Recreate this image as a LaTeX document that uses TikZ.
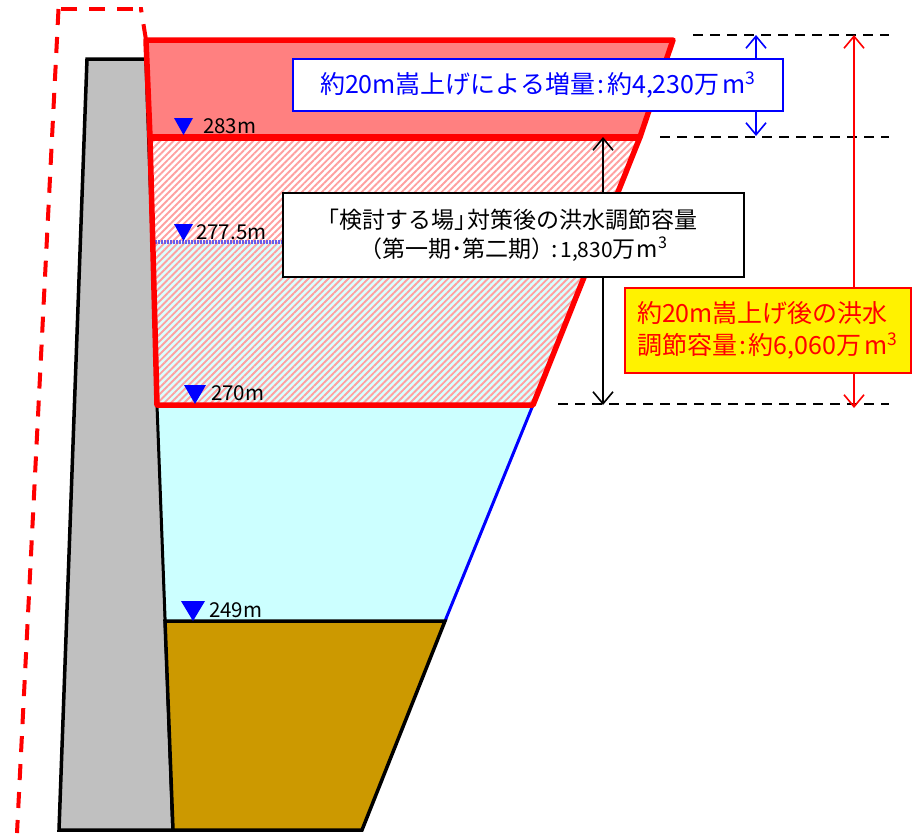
\documentclass[tikz,border=0pt]{standalone}
\usepackage{fontspec}
\setmainfont{Noto Sans CJK JP}
\usetikzlibrary{arrows.meta,patterns.meta,positioning}
\definecolor{damgray}{HTML}{C0C0C0}
\definecolor{silt}{HTML}{CC9900}
\definecolor{lake}{HTML}{CCFFFF}
\definecolor{raised}{HTML}{FF8080}
\definecolor{stripe}{HTML}{FFA0A0}
\definecolor{lvlline}{HTML}{6A5CE8}
\newcommand{\cbm}{\kern3pt m\textsuperscript{3}}
\newcommand{\cln}{\kern2pt:\kern3pt}
\begin{document}
\begin{tikzpicture}[x=1pt,y=-1pt,>={Straight Barb[length=12pt,width=20pt,line width=1.6pt]},
    wall/.style={draw=black,line width=3.5pt,line join=miter},
    redline/.style={draw=red,line width=5.5pt,line join=round},
    reddash/.style={red,line width=4pt,dash pattern=on 16pt off 12pt},
    lvl/.style={inner sep=0pt,anchor=west,font=\fontsize{20.5}{20.5}\selectfont},
    guide/.style={draw=black,line width=1.3pt,dash pattern=on 10pt off 7pt},
    dimen/.style={<->,line width=2pt},
    caption/.style={draw,line width=2.2pt,fill=white,inner sep=0pt,align=center}]
    \useasboundingbox (0,0) rectangle (912,833);

    % dam and reservoir
    \filldraw[wall,fill=damgray] (87,59) -- (146,59) -- (173,830) -- (59,830) -- cycle;
    \fill[lake] (157,405) -- (533,405) -- (445,621) -- (165,621) -- cycle;
    \draw[blue,line width=3pt] (533,405) -- (445,621);
    \draw[black,line width=3pt] (157,405) -- (173,830);
    \filldraw[wall,fill=silt] (165,621) -- (445,621) -- (362,830) -- (173,830) -- cycle;

    % storage zones
    \fill[lake!70!white] (154,242) -- (597,242) -- (533,405) -- (157,405) -- cycle;
    \fill[pattern={Lines[angle=45,distance=4.7pt,line width=1.9pt]},pattern color=stripe]
        (150,137) -- (640,137) -- (533,405) -- (157,405) -- cycle;
    \fill[raised] (146,40) -- (673,40) -- (640,137) -- (150,137) -- cycle;
    \draw[lvlline,line width=3.5pt,dash pattern=on 2pt off 1pt] (155,242) -- (283,242);
    \draw[redline] (150,137) -- (640,137) -- (533,405) -- (157,405) -- cycle;
    \draw[redline] (146,40) -- (673,40) -- (640,137) -- (150,137) -- cycle;
    \draw[red,line width=7pt] (150,137) -- (640,137);
    \draw[reddash] (146,40) -- (141,9) -- (139,9);
    \draw[reddash] (133,9) -- (61,9);
    \draw[reddash] (58.5,9) -- (17,833);

    % levels
    \fill[blue] (174,118) -- (193,118) -- (183.5,135) -- cycle;
    \node[lvl] (l283) at (203,126) {283m};
    \fill[blue] (174,224) -- (193,224) -- (183.5,241) -- cycle;
    \node[lvl] (l277) at (196,232) {277.5m};
    \fill[blue] (184,385) -- (206,385) -- (195,404) -- cycle;
    \node[lvl] (l270) at (211,393) {270m};
    \fill[blue] (181,601) -- (205,601) -- (193,621) -- cycle;
    \node[lvl] (l249) at (209,610) {249m};

    % guide lines and arrows
    \coordinate (g0a) at (693,35);  \coordinate (g0b) at (889,35);
    \coordinate (g1a) at (660,137); \coordinate (g1b) at (889,137);
    \coordinate (g2a) at (558,404); \coordinate (g2b) at (889,404);
    \draw[guide] (g0a) -- (g0b);
    \draw[guide] (g1a) -- (g1b);
    \draw[guide] (g2a) -- (g2b);
    \draw[dimen,blue] (756,35) -- (756,136);
    \draw[dimen,black] (603,137) -- (603,405);
    \draw[dimen,red] (854,35) -- (854,408);

    % captions
    \node[caption,draw=blue,text=blue,minimum width=490pt,minimum height=52pt,
        font=\fontsize{25}{30}\selectfont] (gain) at (538,85)
        {約20m嵩上げによる増量\cln 約4,230万\cbm};
    \node[caption,draw=black,minimum width=461pt,minimum height=84pt,
        font=\fontsize{23}{29}\selectfont] (plan) at (513.5,235)
        {\hspace*{-13pt}「検討する場」\kern-.45em 対策後の洪水調節容量\\（第一期･第二期）\kern-3pt:\kern2pt{\fontsize{21}{29}\selectfont 1,830}万\kern1pt m\textsuperscript{3}};
    \node[caption,draw=red,fill=yellow,text=red,minimum width=286pt,minimum height=85pt,
        text width=262pt,align=left,font=\fontsize{25}{32}\selectfont] (total) at (768,330.5)
        {約20m嵩上げ後の洪水\\調節容量\cln 約6,060万\cbm};
\end{tikzpicture}
\end{document}
